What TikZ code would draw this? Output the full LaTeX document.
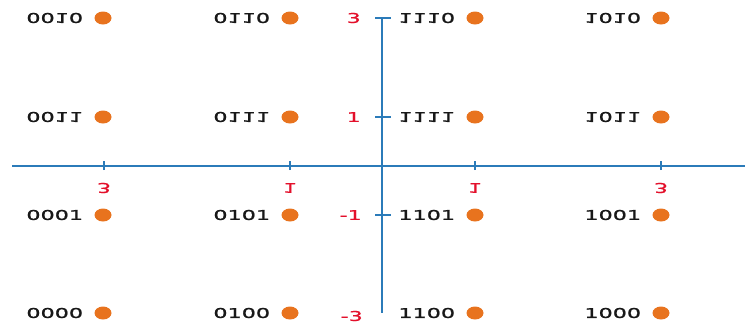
\documentclass[tikz,border=0pt]{standalone}
\usepackage{fontspec}
\setmainfont{DejaVu Sans}[FakeStretch=1.65]
\usepackage{graphicx}
\usetikzlibrary{shapes.geometric}
\definecolor{axisblue}{HTML}{2B7BB9}
\definecolor{dotorange}{HTML}{E8731E}
\definecolor{tickred}{HTML}{E3102B}
\definecolor{lblgray}{HTML}{181818}
\newcommand\flipv[1]{\scalebox{1}[-1]{#1}}
\tikzset{
  qdot/.style={shape=ellipse, fill=dotorange, draw=none, minimum width=17pt, minimum height=13pt, inner sep=0pt},
  qlbl/.style={anchor=east, text=lblgray, font=\fontsize{13.5}{13.5}\selectfont\addfontfeature{FakeBold=1.2}, inner sep=0pt},
  tlbl/.style={text=tickred, font=\fontsize{13.5}{13.5}\selectfont\addfontfeature{FakeBold=0.8}, inner sep=0pt},
  axis/.style={draw=axisblue, line width=1.1pt},
}
\begin{document}
\begin{tikzpicture}[x=1pt,y=-1pt]
\useasboundingbox (0,0) rectangle (747,327);
% axes
\coordinate (xl) at (12,166);
\coordinate (xr) at (745,166);
\coordinate (yt) at (382,18);
\coordinate (yb) at (382,313);
\draw[axis] (xl) -- (xr);
\draw[axis] (yt) -- (yb);
% x ticks
\foreach \x/\n in {104/a,290/b,475/c,661/d}{
  \coordinate (xt\n) at (\x,166);
  \draw[axis] ([yshift=-4pt]xt\n) -- ([yshift=5pt]xt\n);
}
% y ticks
\foreach \y/\n in {18/a,117/b,215/c}{
  \coordinate (yt\n) at (382,\y);
  \draw[axis] ([xshift=-7pt]yt\n) -- ([xshift=9pt]yt\n);
}
% x tick labels (flipped)
\node[tlbl] (xla) at (104,188) {\flipv{3}};
\node[tlbl] (xlb) at (290,188) {\flipv{1}};
\node[tlbl] (xlc) at (475,188) {\flipv{1}};
\node[tlbl] (xld) at (661,188) {\flipv{3}};
% y tick labels
\node[tlbl, anchor=east] (yla) at (361,18) {3};
\node[tlbl, anchor=east] (ylb) at (361,117) {1};
\node[tlbl, anchor=east] (ylc) at (362,215) {-1};
\node[tlbl, anchor=east] (yld) at (363,316) {-3};
% constellation points
\foreach \lab/\x/\y/\f in {
  0010/103/18/1, 0110/290/18/1, 1110/475/18/1, 1010/661/18/1,
  0011/103/117/1, 0111/290/117/1, 1111/475/117/1, 1011/661/117/1,
  0001/103/215/0, 0101/290/215/0, 1101/475/215/0, 1001/661/215/0,
  0000/103/313/0, 0100/290/313/0, 1100/475/313/0, 1000/661/313/0}{
  \node[qdot] (p\lab) at (\x,\y) {};
  \ifnum\f=1
    \node[qlbl] (l\lab) at ([xshift=-11pt]p\lab.west) {\flipv{\lab}};
  \else
    \node[qlbl] (l\lab) at ([xshift=-11pt]p\lab.west) {\lab};
  \fi
}
\end{tikzpicture}
\end{document}
